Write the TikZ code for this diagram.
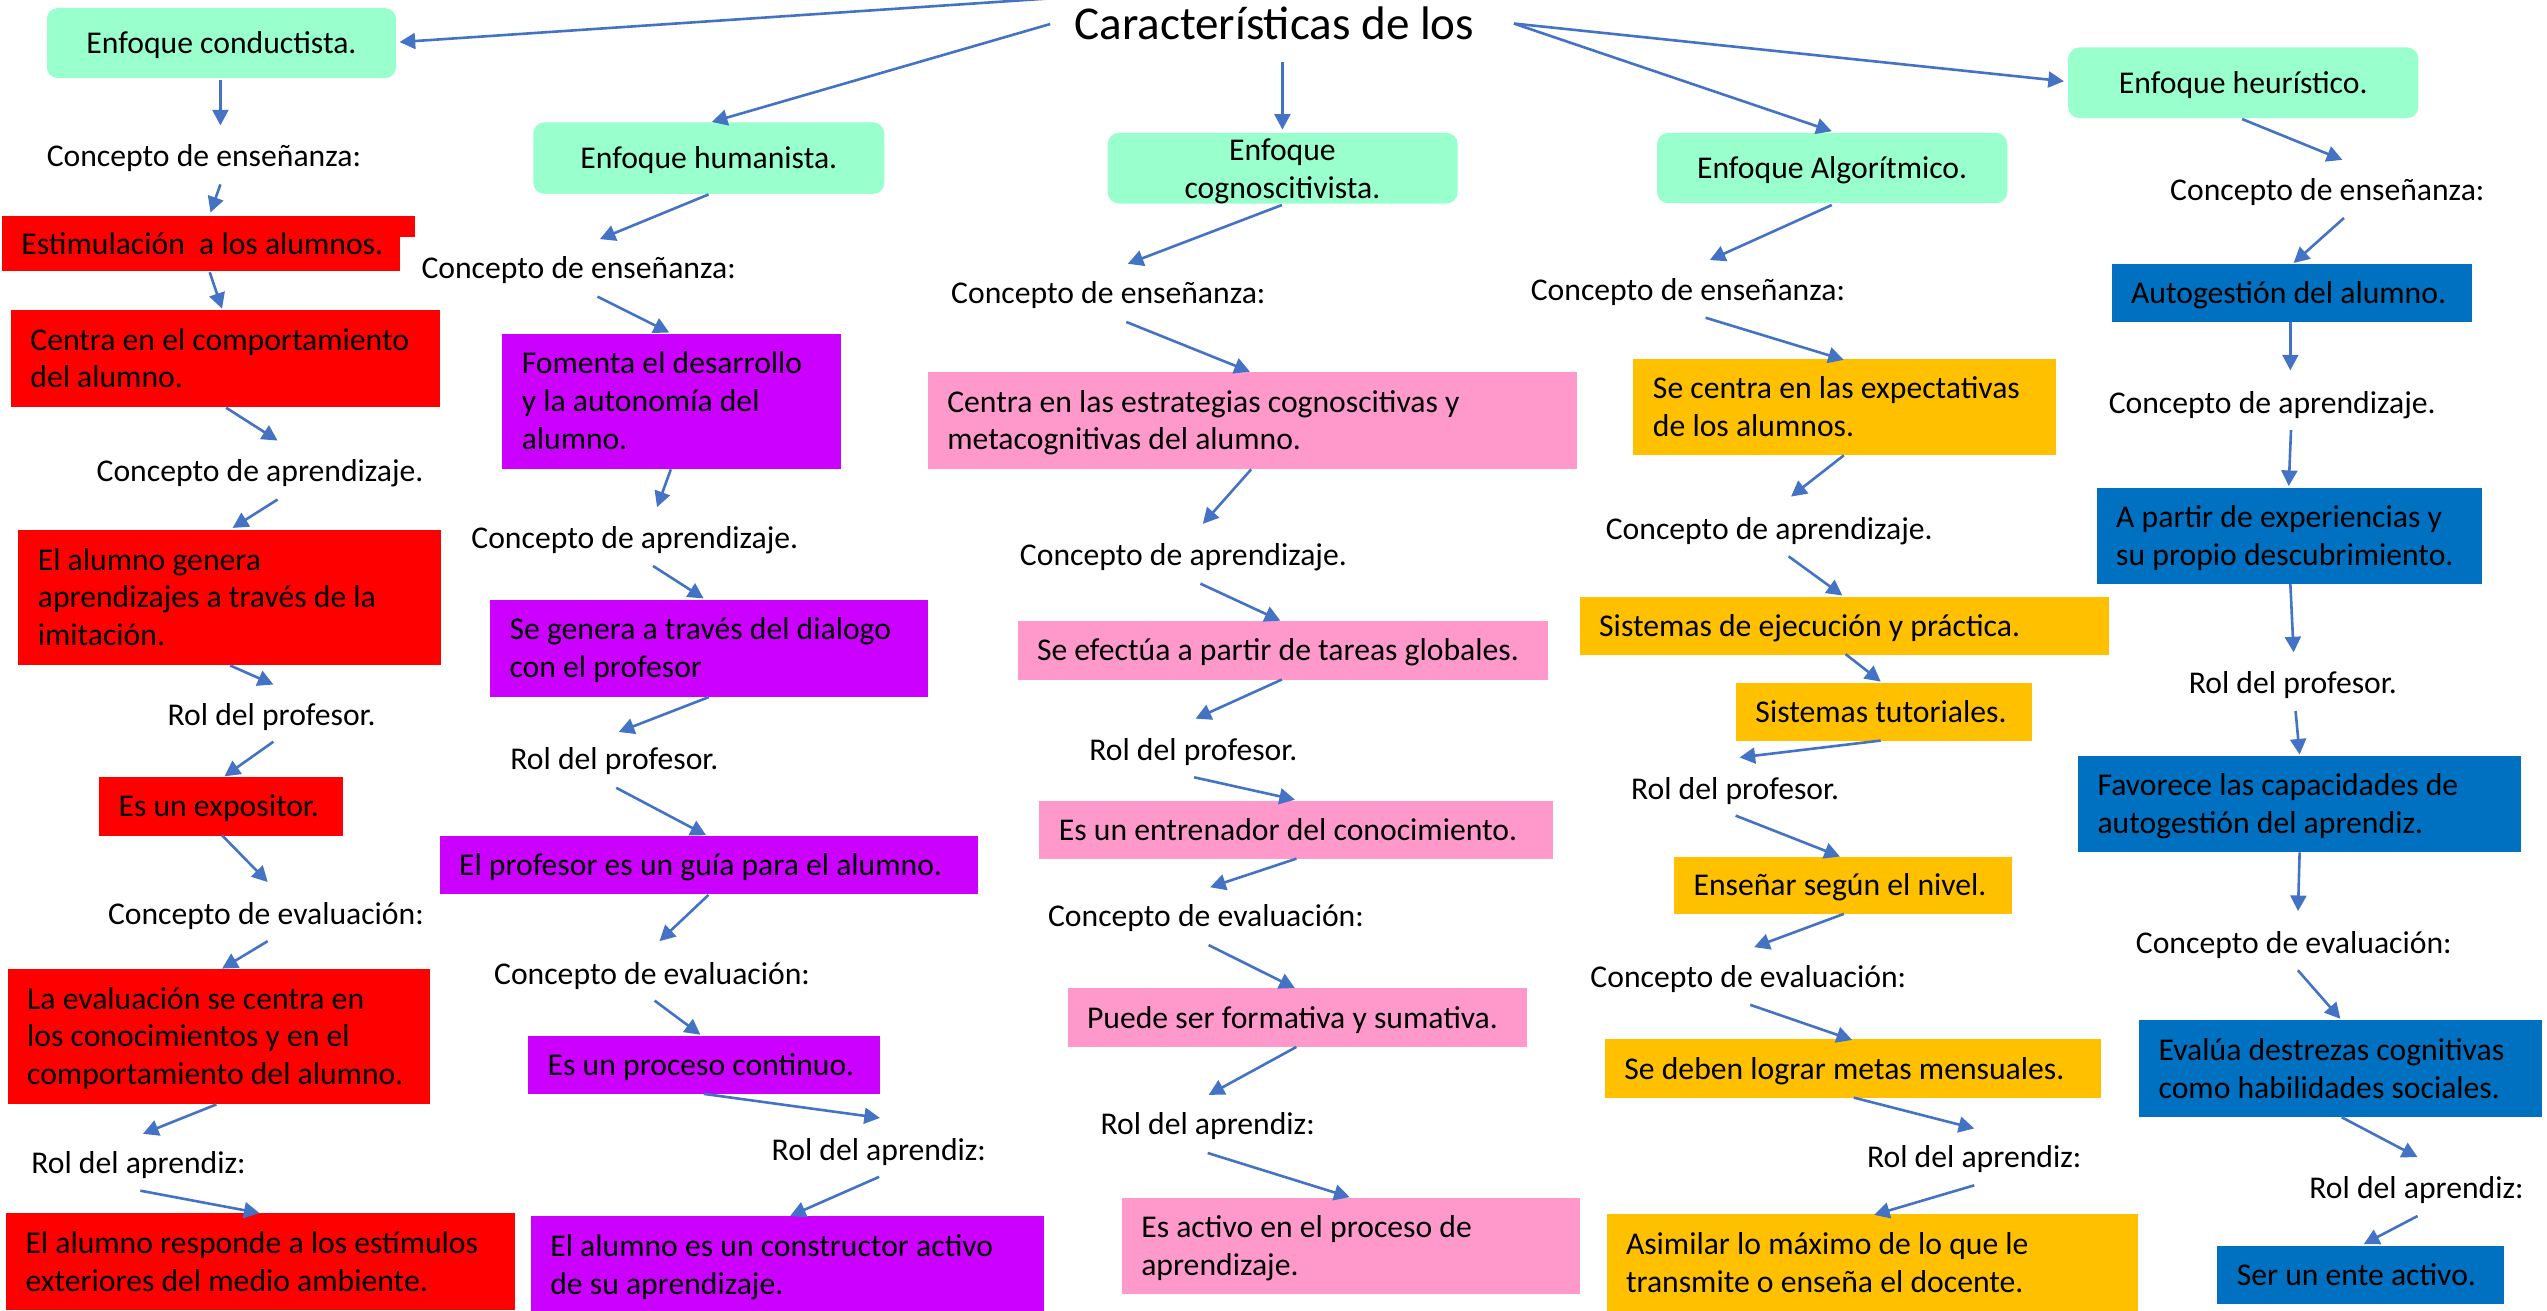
\documentclass[tikz,border=0pt]{standalone}
\usepackage{fontspec}
\setmainfont{Carlito}
\usetikzlibrary{arrows.meta}
\definecolor{arrowblue}{HTML}{4472C4}
\definecolor{mint}{HTML}{99FFCC}
\definecolor{redbox}{HTML}{FF0000}
\definecolor{purplebox}{HTML}{CC00FF}
\definecolor{pinkbox}{HTML}{FF99CC}
\definecolor{orangebox}{HTML}{FFC000}
\definecolor{bluebox}{HTML}{0070C0}
\newcommand\bt[1]{\spaceskip=0pt\xspaceskip=0pt\raisebox{-1.8pt}[\height][\depth]{\begin{tabular}{@{}l@{}}#1\end{tabular}}}
\newcommand\btc[1]{\spaceskip=0pt\xspaceskip=0pt\raisebox{-1.8pt}[\height][\depth]{\begin{tabular}{@{}c@{}}#1\end{tabular}}}
\newcommand\arw[6]{\draw[arr] ([shift={(#2,#3)}]#1) -- ([shift={(#5,#6)}]#4);}
\tikzset{
  txt/.style={font=\fontsize{19.5}{23.3}\selectfont},
  lbl/.style={txt, anchor=west, inner sep=0pt, execute at begin node=\strut},
  box/.style n args={3}{txt, fill=#1, text width=#2pt, minimum height=#3pt,
    anchor=north west, inner xsep=12pt, inner ysep=0pt, align=left},
  gbox/.style n args={2}{txt, fill=mint, rounded corners=7pt, minimum width=#1pt,
    minimum height=#2pt, anchor=north west, inner sep=0pt, align=center},
  arr/.style={draw=arrowblue, line width=1.6pt, -{Triangle[length=9.6pt,width=9.8pt]}}
}
\begin{document}
\begin{tikzpicture}[x=1pt,y=-1pt]
\useasboundingbox[fill=white] (0,0) rectangle (1568,807);

% title
\node[anchor=base, inner sep=0pt, font=\fontsize{29}{35}\selectfont] (T) at (784.5,24.6) {Características de los};

% column 1 : conductista
\node[gbox={215.1}{43.2}] (G1) at (28.6,4.7) {\btc{Enfoque conductista.}};
\node[lbl] (L1a) at (28.6,97.9) {Concepto de enseñanza:};
\fill[redbox] (246.2,132.9) rectangle (255.3,145.9);
\node[box={redbox}{221.2}{33.7}] (B1a) at (1,132.9) {\bt{Estimulación~ a los alumnos.}};
\node[box={redbox}{240.4}{59.6}] (B1b) at (6.5,190.7) {\bt{Centra en el comportamiento\\del alumno.}};
\node[lbl] (L1b) at (59.3,291.7) {Concepto de aprendizaje.};
\node[box={redbox}{236.3}{83.3}] (B1c) at (11.1,325.9) {\bt{El alumno genera\\aprendizajes a través de la\\imitación.}};
\node[lbl] (L1c) at (103,441.8) {Rol del profesor.};
\node[box={redbox}{126.2}{36.3}] (B1d) at (60.8,477.9) {\bt{Es un expositor.}};
\node[lbl] (L1d) at (66.3,564.3) {Concepto de evaluación:};
\node[box={redbox}{236.3}{83.1}] (B1e) at (4.5,596.3) {\bt{La evaluación se centra en\\los conocimientos y en el\\comportamiento del alumno.}};
\node[lbl] (L1e) at (19.1,717.7) {Rol del aprendiz:};
\node[box={redbox}{289.1}{59.6}] (B1f) at (3.5,746.8) {\bt{El alumno responde a los estímulos\\exteriores del medio ambiente.}};

% column 2 : humanista
\node[gbox={216.1}{44.1}] (G2) at (328.1,75.1) {\btc{Enfoque humanista.}};
\node[lbl] (L2a) at (259.3,166.5) {Concepto de enseñanza:};
\node[box={purplebox}{184.6}{83.1}] (P2a) at (309,205.2) {\bt{Fomenta el desarrollo\\y la autonomía del\\alumno.}};
\node[lbl] (L2b) at (290,333.1) {Concepto de aprendizaje.};
\node[box={purplebox}{245.4}{59.4}] (P2b) at (301.5,369.2) {\bt{Se genera a través del dialogo\\con el profesor}};
\node[lbl] (L2c) at (314,469.1) {Rol del profesor.};
\node[box={purplebox}{307.6}{36}] (P2c) at (270.4,514.4) {\bt{El profesor es un guía para el alumno.}};
\node[lbl] (L2d) at (304,601.5) {Concepto de evaluación:};
\node[box={purplebox}{192.7}{36}] (P2d) at (325,637.4) {\bt{Es un proceso continuo.}};
\node[lbl] (L2e) at (474.9,709.7) {Rol del aprendiz:};
\node[box={purplebox}{291.6}{59.6}] (P2e) at (326.6,748.6) {\bt{El alumno es un constructor activo\\de su aprendizaje.}};

% column 3 : cognoscitivista
\node[gbox={215.5}{43.5}] (G3) at (681.7,81.6) {};
\node[txt, anchor=north, inner sep=0pt] (G3t) at (789.5,82.1) {\begin{tabular}{@{}c@{}}Enfoque\\cognoscitivista.\end{tabular}};
\node[lbl] (L3a) at (585.4,182.3) {Concepto de enseñanza:};
\node[box={pinkbox}{375.6}{59.3}] (P3a) at (571,229) {\bt{Centra en las estrategias cognoscitivas y\\metacognitivas del alumno.}};
\node[lbl] (L3b) at (627.7,343.3) {Concepto de aprendizaje.};
\node[box={pinkbox}{302.8}{36.2}] (P3b) at (626.2,382.1) {\bt{Se efectúa a partir de tareas globales.}};
\node[lbl] (L3c) at (670.4,463.4) {Rol del profesor.};
\node[box={pinkbox}{292.2}{35.8}] (P3c) at (639.7,492.8) {\bt{Es un entrenador del conocimiento.}};
\node[lbl] (L3d) at (645,566) {Concepto de evaluación:};
\node[box={pinkbox}{258.6}{35.8}] (P3d) at (657,608.3) {\bt{Puede ser formativa y sumativa.}};
\node[lbl] (L3e) at (677.3,694) {Rol del aprendiz:};
\node[box={pinkbox}{258.3}{59.4}] (P3e) at (690.4,737) {\bt{Es activo en el proceso de\\aprendizaje.}};

% column 4 : algoritmico
\node[gbox={215.6}{43.3}] (G4) at (1019.9,81.6) {\btc{Enfoque Algorítmico.}};
\node[lbl] (L4a) at (942.2,180.3) {Concepto de enseñanza:};
\node[box={orangebox}{236.2}{59.1}] (O4a) at (1005.4,220.7) {\bt{Se centra en las expectativas\\de los alumnos.}};
\node[lbl] (L4b) at (988.4,327.4) {Concepto de aprendizaje.};
\node[box={orangebox}{301.8}{35.7}] (O4b) at (972.3,367.1) {\bt{Sistemas de ejecución y práctica.}};
\node[box={orangebox}{158}{35.8}] (O4c) at (1068.5,420.1) {\bt{Sistemas tutoriales.}};
\node[lbl] (L4c) at (1003.9,487.3) {Rol del profesor.};
\node[box={orangebox}{184.1}{35}] (O4d) at (1030.4,527.3) {\bt{Enseñar según el nivel.}};
\node[lbl] (L4d) at (978.9,603.5) {Concepto de evaluación:};
\node[box={orangebox}{281.3}{36.1}] (O4e) at (987.8,639.6) {\bt{Se deben lograr metas mensuales.}};
\node[lbl] (L4e) at (1149.2,714.3) {Rol del aprendiz:};
\node[box={orangebox}{302.9}{59.6}] (O4f) at (988.8,747.4) {\bt{Asimilar lo máximo de lo que le\\transmite o enseña el docente.}};

% column 5 : heuristico
\node[gbox={215.6}{43.5}] (G5) at (1273,29) {\btc{Enfoque heurístico.}};
\node[lbl] (L5a) at (1335.8,118.5) {Concepto de enseñanza:};
\node[box={bluebox}{198.1}{35.8}] (U5a) at (1299.7,162.4) {\bt{Autogestión del alumno.}};
\node[lbl] (L5b) at (1298,249.7) {Concepto de aprendizaje.};
\node[box={bluebox}{213.1}{59.3}] (U5b) at (1290.6,300) {\bt{A partir de experiencias y\\su propio descubrimiento.}};
\node[lbl] (L5c) at (1347.3,422.4) {Rol del profesor.};
\node[box={bluebox}{248.7}{59.2}] (U5c) at (1279.1,465) {\bt{Favorece las capacidades de\\autogestión del aprendiz.}};
\node[lbl] (L5d) at (1314.7,582.5) {Concepto de evaluación:};
\node[box={bluebox}{224.1}{59.4}] (U5d) at (1316.7,628) {\bt{Evalúa destrezas cognitivas\\como habilidades sociales.}};
\node[lbl] (L5e) at (1421.5,733.3) {Rol del aprendiz:};
\node[box={bluebox}{152.5}{35.8}] (U5e) at (1364.8,766.6) {\bt{Ser un ente activo.}};

% connectors column 1
\arw{T.base}{646.5-784.5}{-1-24.6}{G1.north west}{246-28.6}{25.9-4.7}
\arw{G1.north west}{135.7-28.6}{49.2-4.7}{L1a.west}{135.7-28.6}{77.2-97.9}
\arw{L1a.west}{135.7-28.6}{113.5-97.9}{B1a.north west}{129.6-1}{130.8-132.9}
\arw{B1a.north west}{129.1-1}{167.6-132.9}{B1b.north west}{136.7-6.5}{190-190.7}
\arw{B1b.north west}{139.2-6.5}{251-190.7}{L1b.west}{170.9-59.3}{271.2-291.7}
\arw{L1b.west}{170.9-59.3}{307.5-291.7}{B1c.north west}{143.2-11.1}{325-325.9}
\arw{B1c.north west}{141.7-11.1}{409.7-325.9}{L1c.west}{168.3-103}{421.4-441.8}
\arw{L1c.west}{168.3-103}{456.6-441.8}{B1d.north west}{138.2-60.8}{477.9-477.9}
\arw{B1d.north west}{136.7-60.8}{514.2-477.9}{L1d.west}{164.8-66.3}{543-564.3}
\arw{L1d.west}{164.8-66.3}{579.4-564.3}{B1e.north west}{136.7-4.5}{596.3-596.3}
\arw{B1e.north west}{133.2-4.5}{679.9-596.3}{L1e.west}{88-19.1}{698-717.7}
\arw{L1e.west}{86.4-19.1}{733-717.7}{B1f.north west}{159.8-3.5}{746.8-746.8}

% connectors column 2
\arw{T.base}{646.5-784.5}{14.8-24.6}{G2.north west}{438.2-328.1}{75.1-75.1}
\arw{G2.north west}{436.2-328.1}{119.7-75.1}{L2a.west}{369.3-259.3}{147.2-166.5}
\arw{L2a.west}{367.8-259.3}{182.6-166.5}{P2a.north west}{412-309}{204.7-205.2}
\arw{P2a.north west}{413-309}{288.9-205.2}{L2b.west}{404.5-290}{312.2-333.1}
\arw{L2b.west}{402-290}{348.4-333.1}{P2b.north west}{433.2-301.5}{368.4-369.2}
\arw{P2b.north west}{436.2-301.5}{429.2-369.2}{L2c.west}{380.9-314}{450.6-469.1}
\arw{L2c.west}{379.4-314}{485-469.1}{P2c.north west}{434.7-270.4}{514.2-514.4}
\arw{P2c.north west}{436.2-270.4}{550.9-514.4}{L2d.west}{406-304}{579.4-601.5}
\arw{L2d.west}{403-304}{616-601.5}{P2d.north west}{431.2-325}{637-637.4}
\arw{P2d.north west}{433.2-325}{673.4-637.4}{L2e.west}{541.7-474.9}{688.2-709.7}
\arw{L2e.west}{541.2-474.9}{724.5-709.7}{P2e.north west}{486.4-326.6}{748.6-748.6}

% connectors column 3
\arw{T.base}{789.5-784.5}{38.3-24.6}{G3.north west}{789.5-681.7}{79.8-81.6}
\arw{G3.north west}{789.2-681.7}{126.2-81.6}{L3a.west}{694.3-585.4}{162.4-182.3}
\arw{L3a.west}{693.4-585.4}{198.2-182.3}{P3a.north west}{769.5-571}{228.8-229}
\arw{P3a.north west}{770.3-571}{288.9-229}{L3b.west}{740.5-627.7}{322.5-343.3}
\arw{L3b.west}{739-627.7}{359.3-343.3}{P3b.north west}{788.2-626.2}{382.1-382.1}
\arw{P3b.north west}{789.2-626.2}{418.3-382.1}{L3c.west}{736-670.4}{442.4-463.4}
\arw{L3c.west}{735.1-670.4}{478.5-463.4}{P3c.north west}{797.2-639.7}{492.3-492.8}
\arw{P3c.north west}{798.1-639.7}{528.6-492.8}{L3d.west}{745-645}{546.2-566}
\arw{L3d.west}{744.1-645}{581.8-566}{P3d.north west}{797.2-657}{608.3-608.3}
\arw{P3d.north west}{798.1-657}{644.5-608.3}{L3e.west}{744.1-677.3}{674-694}
\arw{L3e.west}{743.5-677.3}{709.8-694}{P3e.north west}{830.9-690.4}{737-737}

% connectors column 4
\arw{T.base}{932-784.5}{14.5-24.6}{G4.north west}{1127.7-1019.9}{80.8-81.6}
\arw{G4.north west}{1127.7-1019.9}{126.2-81.6}{L4a.west}{1052.6-942.2}{160.1-180.3}
\arw{L4a.west}{1050-942.2}{195.6-180.3}{O4a.north west}{1135.1-1005.4}{221.5-220.7}
\arw{O4a.north west}{1135.1-1005.4}{280.3-220.7}{L4b.west}{1102.6-988.4}{305.7-327.4}
\arw{L4b.west}{1101.1-988.4}{342.5-327.4}{O4b.north west}{1134.2-972.3}{366.6-367.1}
\arw{O4b.north west}{1136.2-972.3}{402.7-367.1}{O4c.north west}{1157.8-1068.5}{419.6-420.1}
\arw{O4c.north west}{1157.8-1068.5}{455.9-420.1}{L4c.west}{1070.9-1003.9}{466.3-487.3}
\arw{L4c.west}{1068.5-1003.9}{502.1-487.3}{O4d.north west}{1132.7-1030.4}{527.3-527.3}
\arw{O4d.north west}{1135.1-1030.4}{562.6-527.3}{L4d.west}{1079.9-978.9}{583.1-603.5}
\arw{L4d.west}{1077.5-978.9}{618.6-603.5}{O4e.north west}{1140.2-987.8}{640.2-639.6}
\arw{O4e.north west}{1141.2-987.8}{675.7-639.6}{L4e.west}{1215.4-1149.2}{694.7-714.3}
\arw{L4e.west}{1215.4-1149.2}{729.7-714.3}{O4f.north west}{1153.7-988.8}{747.9-747.4}

% connectors column 5
\arw{T.base}{932-784.5}{14.5-24.6}{G5.north west}{1270.6-1273}{50-29}
\arw{G5.north west}{1380.3-1273}{73.3-29}{L5a.west}{1442-1335.8}{98.4-118.5}
\arw{L5a.west}{1443-1335.8}{134.2-118.5}{U5a.north west}{1412-1299.7}{161.9-162.4}
\arw{U5a.north west}{1410-1299.7}{198.2-162.4}{L5b.west}{1410-1298}{228-249.7}
\arw{L5b.west}{1410.4-1298}{264.8-249.7}{U5b.north west}{1409-1290.6}{299.2-300}
\arw{U5b.north west}{1410-1290.6}{359.6-300}{L5c.west}{1412-1347.3}{401.6-422.4}
\arw{L5c.west}{1413.2-1347.3}{437.7-422.4}{U5c.north west}{1415.7-1279.1}{464.5-465}
\arw{U5c.north west}{1415.7-1279.1}{524.7-465}{L5d.west}{1414.7-1314.7}{560.9-582.5}
\arw{L5d.west}{1414.6-1314.7}{597.3-582.5}{U5d.north west}{1440.8-1316.7}{627.2-628}
\arw{U5d.north west}{1441.6-1316.7}{687.8-628}{L5e.west}{1488.3-1421.5}{712.4-733.3}
\arw{L5e.west}{1488.3-1421.5}{748.6-733.3}{U5e.north west}{1455.2-1364.8}{765.9-766.6}
\end{tikzpicture}
\end{document}
